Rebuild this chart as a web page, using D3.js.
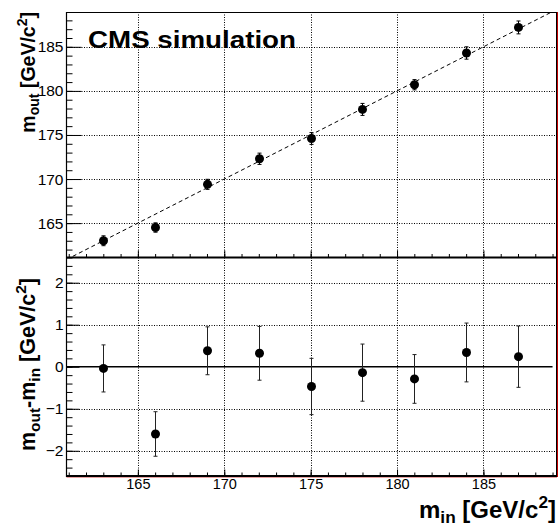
<!DOCTYPE html>
<html><head><meta charset="utf-8">
<script src="https://cdn.jsdelivr.net/npm/d3@7"></script>
<style>body{margin:0;background:#fff}svg{display:block}</style>
</head><body><svg id="c" width="560" height="528"></svg>
<script>
// ---- data ----
const massIn   = [163, 166, 169, 172, 175, 178, 181, 184, 187];
const massOut  = [163.0, 164.5, 169.4, 172.3, 174.6, 177.9, 180.7, 184.3, 187.2];
const residual = [-0.04, -1.60, 0.38, 0.32, -0.47, -0.14, -0.29, 0.34, 0.24];
const errUnc   = [0.56, 0.53, 0.57, 0.64, 0.67, 0.68, 0.58, 0.70, 0.73];
const xTickValues = [165, 170, 175, 180, 185];
const yTopTickValues = [165, 170, 175, 180, 185];
const yBottomTickValues = [-2, -1, 0, 1, 2];
const label = "CMS simulation";

// ---- layout ----
const FONT = "'Liberation Sans', Arial, Helvetica, sans-serif";
const pL = 66.5, pR = 556, pT = 12, pM = 257.5, pB = 476;
const svg = d3.select("#c");

const x  = d3.scaleLinear().domain([160.87, 189.2]).range([pL, pR]);
const yT = d3.scaleLinear().domain([161.1, 188.95]).range([pM, pT]);
const yB = d3.scaleLinear().domain([-2.6, 2.6]).range([pB, pM]);
const px = v => Math.round(v) + 0.5;

svg.append("defs").append("clipPath").attr("id", "clipTop")
  .append("rect").attr("x", pL).attr("y", pT).attr("width", pR - pL).attr("height", pM - pT);

// ---- grids ----
const grid = svg.append("g").attr("stroke", "#000").attr("stroke-width", 1)
  .attr("stroke-dasharray", "1,1.5").attr("fill", "none");
xTickValues.forEach(v => {
  grid.append("line").attr("x1", px(x(v))).attr("x2", px(x(v))).attr("y1", pT).attr("y2", pM);
  grid.append("line").attr("x1", px(x(v))).attr("x2", px(x(v))).attr("y1", pM).attr("y2", pB);
});
yTopTickValues.forEach(v => grid.append("line").attr("x1", pL).attr("x2", pR)
  .attr("y1", px(yT(v))).attr("y2", px(yT(v))));
yBottomTickValues.filter(v => v !== 0).forEach(v => grid.append("line").attr("x1", pL).attr("x2", pR)
  .attr("y1", px(yB(v))).attr("y2", px(yB(v))));

// ---- axes (ticks) ----
function styleAxis(g) { g.select(".domain").remove(); g.selectAll("line").attr("stroke", "#000"); }
const minorX = d3.range(161, 190);
// top panel y
svg.append("g").attr("transform", `translate(${pL},0)`)
  .call(d3.axisLeft(yT).tickValues(d3.range(162, 189)).tickSize(-6).tickFormat("")).call(styleAxis);
svg.append("g").attr("transform", `translate(${pL},0)`)
  .call(d3.axisLeft(yT).tickValues(yTopTickValues).tickSize(-15).tickPadding(3).tickFormat(d3.format("d")))
  .call(styleAxis)
  .call(g => g.selectAll("text").attr("font-family", FONT).attr("font-size", 15.5).attr("fill", "#000"));
// bottom panel y
svg.append("g").attr("transform", `translate(${pL},0)`)
  .call(d3.axisLeft(yB).tickValues(d3.range(-2.6, 2.61, 0.2).map(v => Math.round(v * 10) / 10)).tickSize(-6).tickFormat(""))
  .call(styleAxis);
svg.append("g").attr("transform", `translate(${pL},0)`)
  .call(d3.axisLeft(yB).tickValues(yBottomTickValues).tickSize(-13).tickPadding(3).tickFormat(d3.format("d")))
  .call(styleAxis)
  .call(g => g.selectAll("text").attr("font-family", FONT).attr("font-size", 15.5).attr("fill", "#000"));
// top panel x (ticks only, pointing up)
svg.append("g").attr("transform", `translate(0,${pM})`)
  .call(d3.axisBottom(x).tickValues(minorX).tickSize(-3.5).tickFormat("")).call(styleAxis);
svg.append("g").attr("transform", `translate(0,${pM})`)
  .call(d3.axisBottom(x).tickValues(xTickValues).tickSize(-7).tickFormat("")).call(styleAxis);
// bottom panel x
svg.append("g").attr("transform", `translate(0,${pB})`)
  .call(d3.axisBottom(x).tickValues(minorX).tickSize(-3.5).tickFormat("")).call(styleAxis);
svg.append("g").attr("transform", `translate(0,${pB})`)
  .call(d3.axisBottom(x).tickValues(xTickValues).tickSize(-6.5).tickPadding(3).tickFormat(d3.format("d")))
  .call(styleAxis)
  .call(g => g.selectAll("text").attr("font-family", FONT).attr("font-size", 14.5).attr("fill", "#000").attr("dy", "0.71em"));

// ---- frame ----
const fr = svg.append("g").attr("stroke", "#000").attr("fill", "none");
fr.append("line").attr("x1", pL).attr("x2", pL).attr("y1", pT).attr("y2", pB + 1).attr("stroke-width", 1.2);
fr.append("line").attr("x1", pL).attr("x2", pR).attr("y1", pT + 0.5).attr("y2", pT + 0.5).attr("stroke-width", 1);
fr.append("line").attr("x1", pR + 0.5).attr("x2", pR + 0.5).attr("y1", pT).attr("y2", pB).attr("stroke-width", 1);
fr.append("line").attr("x1", pL).attr("x2", pR + 1).attr("y1", pM).attr("y2", pM).attr("stroke-width", 2);
fr.append("line").attr("x1", pL).attr("x2", pR + 1).attr("y1", pB).attr("y2", pB).attr("stroke-width", 2);
svg.append("line").attr("x1", pR + 1.5).attr("x2", pR + 1.5).attr("y1", pT).attr("y2", pB + 1)
  .attr("stroke", "#c00000").attr("stroke-width", 1);
svg.append("line").attr("x1", pL).attr("x2", pR + 1).attr("y1", pB + 1.5).attr("y2", pB + 1.5)
  .attr("stroke", "#c00000").attr("stroke-width", 0.6).attr("opacity", 0.6);

// ---- top panel: y = x reference ----
svg.append("line").attr("clip-path", "url(#clipTop)")
  .attr("x1", x(160.87)).attr("y1", yT(160.87)).attr("x2", x(189)).attr("y2", yT(189))
  .attr("stroke", "#000").attr("stroke-width", 1).attr("stroke-dasharray", "4,3");

// ---- bottom panel: zero line ----
svg.append("line").attr("x1", x(160.87)).attr("x2", x(189)).attr("y1", yB(0)).attr("y2", yB(0))
  .attr("stroke", "#000").attr("stroke-width", 1.6);

// ---- error bars + markers ----
function points(yScale, vals, color) {
  const g = svg.append("g");
  massIn.forEach((m, i) => {
    const cx = px(x(m)), lo = yScale(vals[i] - errUnc[i]), hi = yScale(vals[i] + errUnc[i]);
    g.append("line").attr("x1", cx).attr("x2", cx).attr("y1", lo).attr("y2", hi).attr("stroke", color).attr("stroke-width", 1);
    [lo, hi].forEach(yy => g.append("line").attr("x1", cx - 2).attr("x2", cx + 2).attr("y1", yy).attr("y2", yy)
      .attr("stroke", color).attr("stroke-width", 1));
    g.append("circle").attr("cx", cx).attr("cy", yScale(vals[i])).attr("r", 4.5).attr("fill", "#000");
  });
}
points(yT, massOut, "#000");
points(yB, residual, "#222");

// ---- texts ----
svg.append("text").attr("x", 88).attr("y", 48.3).attr("font-family", FONT).attr("font-weight", "bold")
  .attr("font-size", 23.5).attr("textLength", 208).attr("lengthAdjust", "spacingAndGlyphs").text(label);

function richTitle(g, parts, size) {
  const t = g.append("text").attr("font-family", FONT).attr("font-weight", "bold").attr("font-size", size)
    .attr("text-anchor", "end").attr("fill", "#000").style("white-space", "pre");
  let shift = 0;
  parts.forEach(([s, kind]) => {
    const sp = t.append("tspan").text(s);
    let target = 0;
    if (kind === "sub") { target = size * 0.22; sp.attr("font-size", size * 0.72); }
    if (kind === "sup") { target = -size * 0.42; sp.attr("font-size", size * 0.72); }
    sp.attr("dy", target - shift); shift = target;
  });
  return t;
}
// top y title
richTitle(svg.append("g").attr("transform", `translate(35,${pT}) rotate(-90)`),
  [["m", ""], ["out", "sub"], [" [GeV/c", ""], ["2", "sup"], ["]", ""]], 19.5);
// bottom y title
richTitle(svg.append("g").attr("transform", "translate(35,278) rotate(-90)"),
  [["m", ""], ["out", "sub"], ["-m", ""], ["in", "sub"], [" [GeV/c", ""], ["2", "sup"], ["]", ""]], 21.5);
// x title
richTitle(svg.append("g").attr("transform", `translate(${pR},518)`),
  [["m", ""], ["in", "sub"], [" [GeV/c", ""], ["2", "sup"], ["]", ""]], 24);
</script></body></html>
